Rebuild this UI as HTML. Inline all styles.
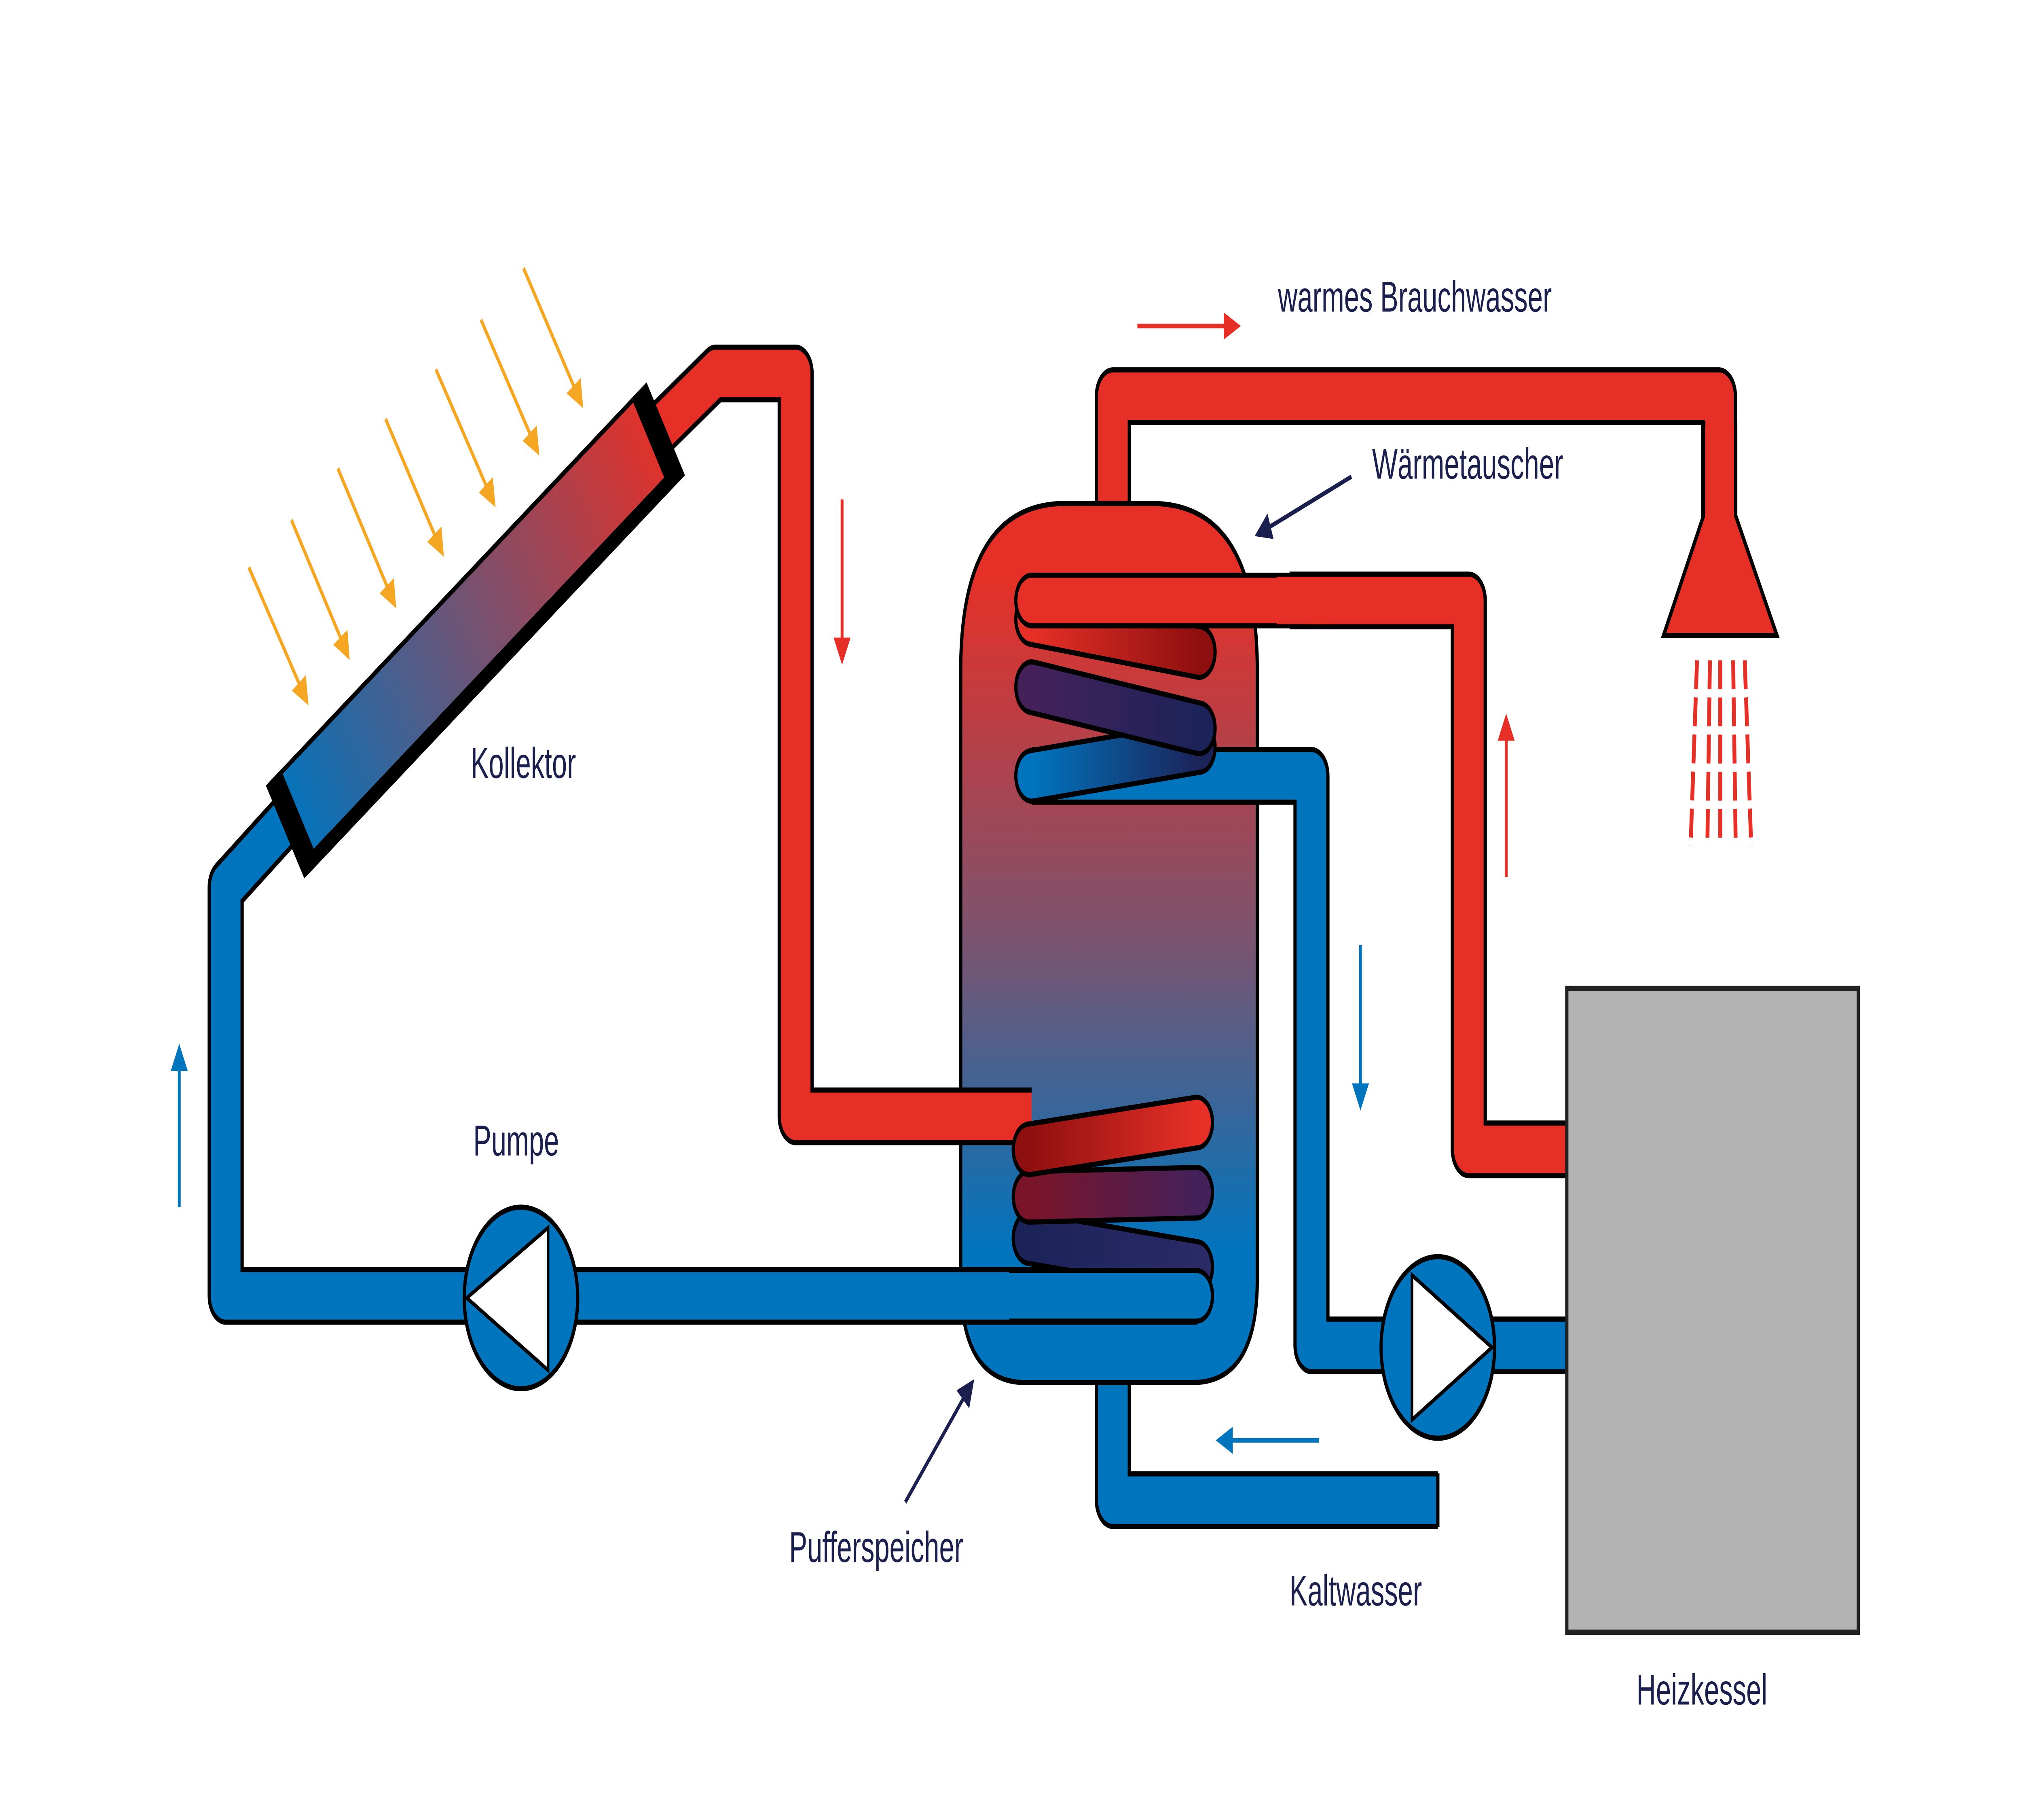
<!DOCTYPE html>
<html><head><meta charset="utf-8">
<style>
html,body{margin:0;padding:0;background:#fff;overflow:hidden;width:100%;height:100%;}
svg{display:block;width:100vw;height:100vh;}
text{font-family:"Liberation Sans",sans-serif;fill:#1a1f4e;font-size:21px;}
</style></head>
<body>
<svg viewBox="0 0 1568 882" preserveAspectRatio="none" xmlns="http://www.w3.org/2000/svg">
<defs>
<linearGradient id="tank" x1="0" y1="0" x2="0" y2="1">
<stop offset="0.08" stop-color="#e63027"/><stop offset="0.5" stop-color="#7a5470"/><stop offset="0.85" stop-color="#0075be"/>
</linearGradient>
<linearGradient id="coll" x1="0" y1="0" x2="1" y2="0">
<stop offset="0" stop-color="#0075be"/><stop offset="1" stop-color="#e63027"/>
</linearGradient>
<linearGradient id="gR" x1="0" y1="0" x2="1" y2="0"><stop offset="0" stop-color="#e63027"/><stop offset="1" stop-color="#8e0f0f"/></linearGradient>
<linearGradient id="gR2" x1="0" y1="0" x2="1" y2="0"><stop offset="0" stop-color="#8e0f0f"/><stop offset="1" stop-color="#e63027"/></linearGradient>
<linearGradient id="gP" x1="0" y1="0" x2="1" y2="0"><stop offset="0" stop-color="#45215a"/><stop offset="1" stop-color="#1c2359"/></linearGradient>
<linearGradient id="gP2" x1="0" y1="0" x2="1" y2="0"><stop offset="0" stop-color="#7a1428"/><stop offset="1" stop-color="#45215a"/></linearGradient>
<linearGradient id="gB" x1="0" y1="0" x2="1" y2="0"><stop offset="0" stop-color="#0075be"/><stop offset="1" stop-color="#1c2359"/></linearGradient>
<linearGradient id="gN" x1="0" y1="0" x2="1" y2="0"><stop offset="0" stop-color="#1c2359"/><stop offset="1" stop-color="#2a2a66"/></linearGradient>
<marker id="aO" markerWidth="6" markerHeight="6" refX="5" refY="3" orient="auto" markerUnits="strokeWidth"><path d="M0,0 L6,3 L0,6 Z" fill="#f5a623"/></marker>
<marker id="aR" markerWidth="6" markerHeight="6" refX="5" refY="3" orient="auto" markerUnits="strokeWidth"><path d="M0,0 L6,3 L0,6 Z" fill="#e63027"/></marker>
<marker id="aB" markerWidth="6" markerHeight="6" refX="5" refY="3" orient="auto" markerUnits="strokeWidth"><path d="M0,0 L6,3 L0,6 Z" fill="#0075be"/></marker>
<marker id="aN" markerWidth="6" markerHeight="6" refX="5" refY="3" orient="auto" markerUnits="strokeWidth"><path d="M0,0 L6,3 L0,6 Z" fill="#1a1f4e"/></marker>
</defs>

<!-- sun arrows -->
<g stroke="#f5a623" stroke-width="2.2" marker-end="url(#aO)">
<line x1="193" y1="275" x2="238" y2="340"/>
<line x1="226" y1="252" x2="270" y2="318"/>
<line x1="262" y1="227" x2="306" y2="293"/>
<line x1="299" y1="203" x2="343" y2="268"/>
<line x1="338" y1="179" x2="383" y2="244"/>
<line x1="373" y1="155" x2="417" y2="219"/>
<line x1="406" y1="130" x2="451" y2="196"/>
</g>

<!-- pipes behind tank -->
<g fill="none" stroke-linejoin="round">
<path d="M863,260 L863,192 L1333,192 L1333,256" stroke="#000" stroke-width="28"/>
<path d="M863,262 L863,192 L1333,192 L1333,258" stroke="#e63027" stroke-width="23"/>
<path d="M863,660 L863,727 L1115,727" stroke="#000" stroke-width="28"/>
<path d="M863,660 L863,727 L1114,727" stroke="#0075be" stroke-width="23"/>
</g>
<line x1="1115" y1="714" x2="1115" y2="740" stroke="#000" stroke-width="2.5"/>

<!-- tank -->
<path d="M745,325 Q745,244 826,244 L893,244 Q975,244 975,325 L975,620 Q975,670 925,670 L795,670 Q745,670 745,620 Z" fill="url(#tank)" stroke="#000" stroke-width="2.5"/>

<!-- pipes over tank -->
<g fill="none" stroke-linejoin="round">
<path d="M230,392 L175,430 L175,628 L928,628" stroke="#000" stroke-width="28"/>
<path d="M230,392 L175,430 L175,628 L928,628" stroke="#0075be" stroke-width="23"/>
<path d="M505,212 L555,181 L617,181 L617,541 L800,541" stroke="#000" stroke-width="28"/>
<path d="M505,212 L555,181 L617,181 L617,541 L800,541" stroke="#e63027" stroke-width="23"/>
<path d="M800,376 L1017,376 L1017,652 L1216,652" stroke="#000" stroke-width="28"/>
<path d="M800,376 L1017,376 L1017,652 L1216,652" stroke="#0075be" stroke-width="23"/>
<path d="M1000,291 L1139,291 L1139,557 L1216,557" stroke="#000" stroke-width="28"/>
<path d="M1000,291 L1139,291 L1139,557 L1216,557" stroke="#e63027" stroke-width="23"/>
</g>

<!-- top coil -->
<g stroke-linecap="round" fill="none">
<line x1="800" y1="376" x2="930" y2="362" stroke="#000" stroke-width="27"/>
<line x1="800" y1="376" x2="930" y2="362" stroke="url(#gB)" stroke-width="22"/>
<line x1="800" y1="333" x2="930" y2="353" stroke="#000" stroke-width="27"/>
<line x1="800" y1="333" x2="930" y2="353" stroke="url(#gP)" stroke-width="22"/>
<line x1="800" y1="300" x2="930" y2="316" stroke="#000" stroke-width="27"/>
<line x1="800" y1="300" x2="930" y2="316" stroke="url(#gR)" stroke-width="22"/>
<line x1="800" y1="291" x2="1010" y2="291" stroke="#000" stroke-width="27"/>
<line x1="800" y1="291" x2="1010" y2="291" stroke="#e63027" stroke-width="22"/>
</g>
<rect x="990" y="279.5" width="40" height="23" fill="#e63027"/>

<!-- bottom coil -->
<g stroke-linecap="round" fill="none">
<line x1="798" y1="600" x2="928" y2="614" stroke="#000" stroke-width="27"/>
<line x1="798" y1="600" x2="928" y2="614" stroke="url(#gN)" stroke-width="22"/>
<line x1="798" y1="580" x2="928" y2="578" stroke="#000" stroke-width="27"/>
<line x1="798" y1="580" x2="928" y2="578" stroke="url(#gP2)" stroke-width="22"/>
<line x1="798" y1="557" x2="928" y2="544" stroke="#000" stroke-width="27"/>
<line x1="798" y1="557" x2="928" y2="544" stroke="url(#gR2)" stroke-width="22"/>
<line x1="790" y1="628" x2="928" y2="628" stroke="#000" stroke-width="27"/>
<line x1="780" y1="628" x2="928" y2="628" stroke="#0075be" stroke-width="22"/>
</g>
<rect x="740" y="617" width="50" height="22" fill="#0075be"/>

<!-- collector -->
<g transform="translate(367,303) rotate(-33.5)">
<rect x="-175" y="-22" width="350" height="44" fill="url(#coll)"/>
<rect x="-175" y="22" width="350" height="8" fill="#000"/>
<rect x="-177" y="-24" width="14" height="54" fill="#000"/>
<rect x="163" y="-24" width="14" height="54" fill="#000"/>
<rect x="-175" y="-24" width="350" height="2.5" fill="#000"/>
</g>

<!-- shower head -->
<path d="M1321,205 L1321,250 L1290,308 L1378,308 L1346,250 L1346,205 Z" fill="#e63027" stroke="#000" stroke-width="2.5"/>
<rect x="1322.5" y="200" width="22" height="50" fill="#e63027"/>
<g stroke="#e63027" stroke-width="3" stroke-dasharray="14,4">
<line x1="1316" y1="320" x2="1311" y2="410"/>
<line x1="1326" y1="320" x2="1324" y2="410"/>
<line x1="1334" y1="320" x2="1334" y2="410"/>
<line x1="1344" y1="320" x2="1346" y2="410"/>
<line x1="1353" y1="320" x2="1358" y2="410"/>
</g>

<!-- boiler -->
<rect x="1215" y="479" width="226" height="312" fill="#b3b3b3" stroke="#222" stroke-width="2.5"/>

<!-- pumps -->
<circle cx="404" cy="629" r="44" fill="#0075be" stroke="#000" stroke-width="2.5"/>
<path d="M425,595 L425,664 L362,629 Z" fill="#fff" stroke="#000" stroke-width="2"/>
<circle cx="1115" cy="653" r="44" fill="#0075be" stroke="#000" stroke-width="2.5"/>
<path d="M1095,618 L1095,688 L1157,653 Z" fill="#fff" stroke="#000" stroke-width="2"/>

<!-- flow arrows -->
<g stroke-width="2.2">
<line x1="653" y1="242" x2="653" y2="320" stroke="#e63027" marker-end="url(#aR)"/>
<line x1="882" y1="158" x2="960" y2="158" stroke="#e63027" marker-end="url(#aR)"/>
<line x1="1168" y1="425" x2="1168" y2="348" stroke="#e63027" marker-end="url(#aR)"/>
<line x1="1055" y1="458" x2="1055" y2="536" stroke="#0075be" marker-end="url(#aB)"/>
<line x1="1023" y1="698" x2="945" y2="698" stroke="#0075be" marker-end="url(#aB)"/>
<line x1="139" y1="585" x2="139" y2="508" stroke="#0075be" marker-end="url(#aB)"/>
<line x1="1048" y1="231" x2="975" y2="259" stroke="#1a1f4e" marker-end="url(#aN)"/>
<line x1="702" y1="728" x2="754" y2="670" stroke="#1a1f4e" marker-end="url(#aN)"/>
</g>

<!-- labels -->
<text x="991" y="151">warmes Brauchwasser</text>
<text x="1064" y="232">Wärmetauscher</text>
<text x="365" y="377">Kollektor</text>
<text x="367" y="560">Pumpe</text>
<text x="612" y="757">Pufferspeicher</text>
<text x="1000" y="778">Kaltwasser</text>
<text x="1269" y="826">Heizkessel</text>
</svg>
</body></html>
